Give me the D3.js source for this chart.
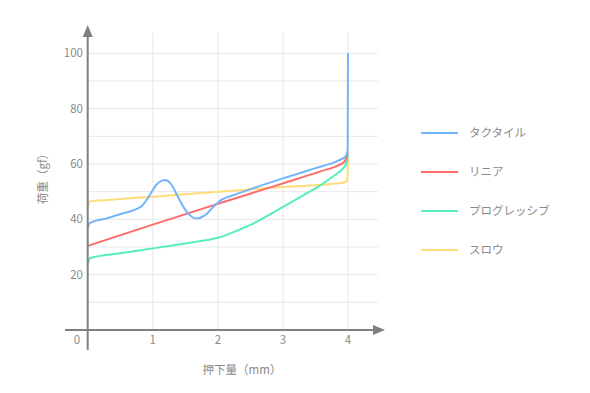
<!DOCTYPE html>
<html><head><meta charset="utf-8">
<script src="https://cdn.jsdelivr.net/npm/d3@7"></script>
<style>
body{margin:0;background:#fff;}
text{font-family:"Noto Sans CJK JP","Noto Sans",sans-serif;fill:#8a8a8a;}
</style></head>
<body><svg id="c" width="590" height="393"></svg>
<script>
const seriesNames = ["タクタイル","リニア","プログレッシブ","スロウ"];
const seriesColors = ["#74b4fb","#ff6b6b","#58efbd","#ffdc7a"];
const tactile = [[0,36.8],[0.03,38.6],[0.3,40.4],[0.55,42.2],[0.72,43.4],[0.84,45],[0.94,48.2],[1.06,52.6],[1.19,54.2],[1.29,52.4],[1.38,48.4],[1.52,42.8],[1.67,40.3],[1.8,41.4],[1.93,44.5],[2.06,47.1],[2.25,48.8],[2.5,50.9],[3,54.8],[3.5,58.5],[3.85,61.2],[3.96,62.7],[3.995,65],[4,100]];
const linear = [[0,30.4],[1,38.1],[2,45.6],[3,53],[3.6,57.5],[3.85,59.5],[3.95,60.9],[4,64.2]];
const progressive = [[0,24],[0.04,26],[0.5,27.7],[1,29.5],[1.5,31.3],[1.9,32.8],[2.02,33.4],[2.2,35],[2.5,38],[3,44.5],[3.3,48.5],[3.62,53],[3.8,56],[3.93,58.6],[3.98,60.5],[4,63.5]];
const slow = [[0,44.3],[0.03,46.4],[0.5,47.3],[1,48.2],[2,50],[3,51.7],[3.9,53.1],[3.97,53.6],[3.993,55.5],[4,63]];
const seriesData = [tactile, linear, progressive, slow];
const xTicks = [1,2,3,4];
const yTicks = [20,40,60,80,100];
const yGrid = [10,20,30,40,50,60,70,80,90,100];
const xTitle = "押下量（mm）";
const yTitle = "荷重（gf）";

const svg = d3.select("#c");
const x = d3.scaleLinear().domain([0,4]).range([87.7,348]);
const y = d3.scaleLinear().domain([0,100]).range([330,53.3]);

// grid
const g = svg.append("g");
g.selectAll(".hg").data(yGrid).join("line")
 .attr("x1",x(0)).attr("x2",x(4.46)).attr("y1",d=>y(d)).attr("y2",d=>y(d))
 .attr("stroke","#e8e8e8").attr("stroke-width",1);
g.selectAll(".vg").data(xTicks).join("line")
 .attr("x1",d=>x(d)).attr("x2",d=>x(d)).attr("y1",y(0)).attr("y2",y(107.6))
 .attr("stroke","#e8e8e8").attr("stroke-width",1);

// series
const line = d3.line().x(d=>x(d[0])).y(d=>y(d[1])).curve(d3.curveMonotoneX);
[slow, progressive, linear, tactile].forEach(s=>{
  const i = seriesData.indexOf(s);
  svg.append("path").attr("d",line(s)).attr("fill","none")
   .attr("stroke",seriesColors[i]).attr("stroke-width",2).attr("stroke-linejoin","round");
});

// axes
const ax = svg.append("g");
ax.append("line").attr("x1",65).attr("x2",377).attr("y1",y(0)).attr("y2",y(0)).attr("stroke","#808080").attr("stroke-width",2);
ax.append("line").attr("x1",x(0)).attr("x2",x(0)).attr("y1",350).attr("y2",33).attr("stroke","#808080").attr("stroke-width",2);
ax.append("path").attr("d",`M${x(0)},25 L${x(0)-5},37 L${x(0)+5},37 Z`).attr("fill","#808080");
ax.append("path").attr("d",`M385,${y(0)} L373,${y(0)-5} L373,${y(0)+5} Z`).attr("fill","#808080");

// tick labels
svg.selectAll(".xt").data(xTicks).join("text").attr("x",d=>x(d)).attr("y",344)
 .attr("text-anchor","middle").attr("font-size",11.5).text(d=>d);
svg.append("text").attr("x",77).attr("y",344).attr("text-anchor","middle").attr("font-size",11.5).text("0");
svg.selectAll(".yt").data(yTicks).join("text").attr("x",83).attr("y",d=>y(d)+4)
 .attr("text-anchor","end").attr("font-size",11.5).text(d=>d);

// titles
svg.append("text").attr("x",242).attr("y",374).attr("text-anchor","middle").attr("font-size",11.5).text(xTitle);
svg.append("text").attr("transform","translate(47,176) rotate(-90)").attr("text-anchor","middle").attr("font-size",11.5).text(yTitle);

// legend
const lg = svg.append("g");
seriesNames.forEach((n,i)=>{
  const yy = 133 + i*39;
  lg.append("line").attr("x1",421).attr("x2",458).attr("y1",yy).attr("y2",yy).attr("stroke",seriesColors[i]).attr("stroke-width",2);
  lg.append("text").attr("x",469).attr("y",yy+4).attr("font-size",11.5).text(n);
});
</script></body></html>
